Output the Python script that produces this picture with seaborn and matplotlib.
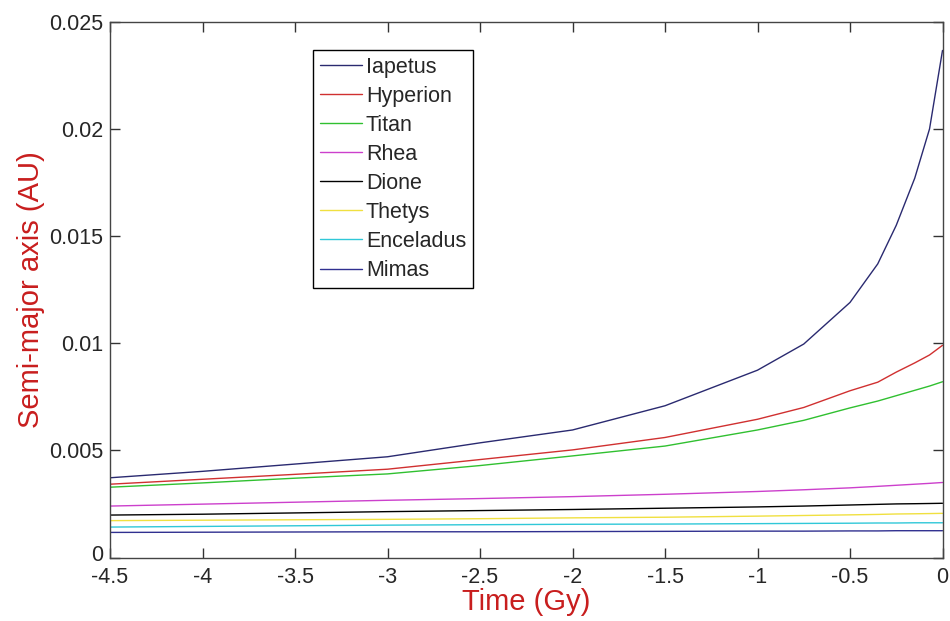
import numpy as np
import pandas as pd
import matplotlib
matplotlib.use("Agg")
import matplotlib.pyplot as plt
import seaborn as sns

# Time (Gy)
time_gy = [-4.5, -4, -3.5, -3, -2.5, -2, -1.5, -1, -0.75, -0.5, -0.35, -0.25, -0.15, -0.07, 0]

# Semi-major axis (AU), in units of 1e-3 AU
iapetus   = [3.72, 4.02, 4.36, 4.70, 5.35, 5.95, 7.08, 8.74, 9.96, 11.9, 13.7, 15.5, 17.7, 20.0, 23.66]
hyperion  = [3.42, 3.65, 3.88, 4.12, 4.57, 5.02, 5.60, 6.45, 7.00, 7.78, 8.18, 8.65, 9.08, 9.45, 9.90]
titan     = [3.28, 3.48, 3.70, 3.90, 4.29, 4.74, 5.20, 5.95, 6.40, 6.98, 7.30, 7.55, 7.80, 8.00, 8.20]
rhea      = [2.40, 2.49, 2.58, 2.67, 2.75, 2.84, 2.95, 3.08, 3.16, 3.25, 3.32, 3.37, 3.42, 3.46, 3.50]
dione     = [1.98, 2.02, 2.08, 2.14, 2.19, 2.24, 2.30, 2.36, 2.40, 2.45, 2.48, 2.50, 2.51, 2.52, 2.53]
thetys    = [1.72, 1.74, 1.76, 1.78, 1.81, 1.85, 1.88, 1.93, 1.96, 1.99, 2.01, 2.03, 2.04, 2.05, 2.06]
enceladus = [1.42, 1.45, 1.48, 1.51, 1.53, 1.55, 1.56, 1.58, 1.59, 1.60, 1.61, 1.61, 1.62, 1.62, 1.62]
mimas     = [1.17, 1.18, 1.19, 1.20, 1.20, 1.21, 1.22, 1.23, 1.23, 1.24, 1.24, 1.25, 1.25, 1.25, 1.25]

moons = ["Iapetus", "Hyperion", "Titan", "Rhea", "Dione", "Thetys", "Enceladus", "Mimas"]
series = [iapetus, hyperion, titan, rhea, dione, thetys, enceladus, mimas]
colors = ["#2a2a70", "#d03030", "#30c030", "#cc40cc", "#000000", "#f0e040", "#30c8d8", "#303090"]

x_ticks = [-4.5, -4, -3.5, -3, -2.5, -2, -1.5, -1, -0.5, 0]
y_ticks = [0, 0.005, 0.01, 0.015, 0.02, 0.025]

rows = []
for name, vals in zip(moons, series):
    for t, v in zip(time_gy, vals):
        rows.append({"Time": t, "a": v * 1e-3, "Moon": name})
df = pd.DataFrame(rows)

sns.set_style("ticks")
plt.rcParams["font.family"] = ["Liberation Sans", "DejaVu Sans"]
plt.rcParams["axes.unicode_minus"] = False
plt.rcParams["xtick.direction"] = "in"
plt.rcParams["ytick.direction"] = "in"

fig = plt.figure(figsize=(9.5, 6.21), dpi=100)
ax = fig.add_axes([110 / 950, 1 - 557.5 / 621, (942.5 - 110) / 950, (557.5 - 21.7) / 621])

sns.lineplot(data=df, x="Time", y="a", hue="Moon", hue_order=moons,
             palette=dict(zip(moons, colors)), linewidth=1.0, ax=ax,
             estimator=None, sort=True)

ax.set_xlim(-4.5, 0)
ax.set_ylim(0, 0.025)
ax.set_xticks(x_ticks)
ax.set_xticklabels([f"{v:g}" for v in x_ticks])
ax.set_yticks(y_ticks)
# the "0" label is drawn separately, nudged up a little so it does not collide with "-4.5"
ax.set_yticklabels(["" if v == 0 else f"{v:g}" for v in y_ticks])
ax.tick_params(axis="both", which="both", direction="in", length=7, width=1,
               labelsize=15.5, top=True, right=True, color="#333333")
ax.tick_params(axis="x", pad=7)
ax.tick_params(axis="y", pad=5)
ax.annotate(f"{y_ticks[0]:g}", xy=(0, y_ticks[0]), xycoords=("axes fraction", "data"),
            xytext=(-5, 3.5), textcoords="offset points", ha="right", va="center_baseline",
            fontsize=15.5, color="#262626")
for sp in ax.spines.values():
    sp.set_visible(True)
    sp.set_color("#444444")
    sp.set_linewidth(1.0)

ax.set_xlabel("Time (Gy)", color="#c81e1e", fontsize=21, labelpad=0)
ax.set_ylabel("Semi-major axis (AU)", color="#c81e1e", fontsize=21, labelpad=3)

handles, labels = ax.get_legend_handles_labels()
leg = ax.legend(handles, labels, loc="upper left", bbox_to_anchor=(0.244, 0.947),
                borderaxespad=0, fontsize=15.5, frameon=True, fancybox=False,
                handlelength=1.95, handletextpad=0.2, labelspacing=0.375,
                borderpad=0.3, title=None)
leg.get_frame().set_edgecolor("black")
leg.get_frame().set_linewidth(1.0)
leg.get_frame().set_facecolor("white")
leg.get_frame().set_alpha(1)

fig.savefig("out.png", dpi=100, facecolor="white")
